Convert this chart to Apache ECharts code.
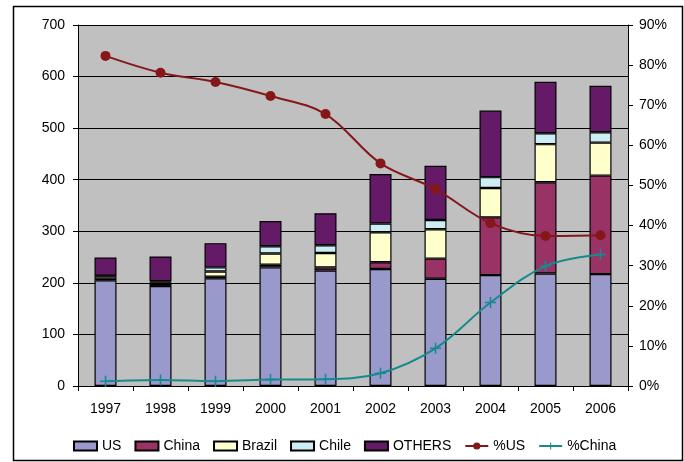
<!DOCTYPE html>
<html>
<head>
<meta charset="utf-8">
<script src="https://cdn.jsdelivr.net/npm/echarts@6/dist/echarts.min.js"></script>
<style>
  html, body { margin: 0; padding: 0; background: #fff; }
  #chart { width: 684px; height: 462px; }
</style>
</head>
<body>
<div id="chart"></div>
<script>
// Volumes by origin (stacked bars, left axis) and shares (lines, right axis)
const years = ['1997', '1998', '1999', '2000', '2001', '2002', '2003', '2004', '2005', '2006'];
const us     = [205, 194, 209, 230, 224, 227, 208, 215, 218, 217];
const china  = [3, 4, 3, 5, 6, 13, 39, 112, 177, 191];
const brazil = [5, 3, 10, 22, 28, 58, 57, 57, 74, 64];
const chile  = [1, 2, 8, 14, 15, 17, 18, 21, 21, 20];
const others = [35, 48, 47, 49, 62, 96, 105, 129, 100, 90];
const pctUS    = [82.3, 78.1, 75.8, 72.3, 67.8, 55.5, 49.1, 40.6, 37.4, 37.6];
const pctChina = [1.2, 1.5, 1.2, 1.6, 1.7, 3.2, 9.4, 20.8, 29.9, 32.8];

const leftTicks = { min: 0, max: 700, interval: 100 };
const rightTicks = { min: 0, max: 90, interval: 10 };

const FONT = 'Liberation Sans, Arial, sans-serif';
const FS = 14;
const plus = 'path://M4.3,0H5.7V4.3H10V5.7H5.7V10H4.3V5.7H0V4.3H4.3Z';

function barSeries(name, data, color) {
  return {
    name, type: 'bar', stack: 'vol', data,
    barWidth: 22,
    itemStyle: { color, borderColor: '#000', borderWidth: 1.2 },
    emphasis: { disabled: true }
  };
}

const chart = echarts.init(document.getElementById('chart'), null, { renderer: 'canvas' });
chart.setOption({
  animation: false,
  backgroundColor: '#fff',
  textStyle: { fontFamily: FONT, color: '#000' },
  graphic: [{
    type: 'rect', left: 11, top: 4, z: 100,
    shape: { width: 669, height: 454 },
    style: { fill: 'none', stroke: '#000', lineWidth: 1.5 }
  }],
  grid: {
    left: 78, top: 25, right: 56, bottom: 76,
    show: true, backgroundColor: '#c0c0c0', borderWidth: 0
  },
  legend: {
    left: 73, top: 439, padding: 0,
    itemWidth: 23, itemHeight: 9, itemGap: 13,
    textStyle: { fontSize: FS, fontFamily: FONT, color: '#000' },
    data: [
      { name: 'US', icon: 'rect' },
      { name: 'China', icon: 'rect' },
      { name: 'Brazil', icon: 'rect' },
      { name: 'Chile', icon: 'rect' },
      { name: 'OTHERS', icon: 'rect' },
      '%US', '%China'
    ]
  },
  xAxis: {
    type: 'category', data: years,
    axisLine: { lineStyle: { color: '#000', width: 1 } },
    axisTick: { show: true, length: 5, lineStyle: { color: '#000' } },
    axisLabel: { fontSize: FS, color: '#000', margin: 16, fontFamily: FONT }
  },
  yAxis: [{
    type: 'value', ...leftTicks,
    axisLine: { show: true, lineStyle: { color: '#000', width: 1 } },
    axisTick: { show: true, length: 5, lineStyle: { color: '#000' } },
    splitLine: { lineStyle: { color: '#000', width: 1 } },
    axisLabel: { fontSize: FS, color: '#000', margin: 13, fontFamily: FONT }
  }, {
    type: 'value', position: 'right', ...rightTicks,
    axisLine: { show: true, lineStyle: { color: '#000', width: 1 } },
    axisTick: { show: true, length: 5, lineStyle: { color: '#000' } },
    splitLine: { show: false },
    axisLabel: { fontSize: FS, color: '#000', margin: 11, fontFamily: FONT, formatter: '{value}%' }
  }],
  series: [
    barSeries('US', us, '#9999cc'),
    barSeries('China', china, '#993366'),
    barSeries('Brazil', brazil, '#ffffcc'),
    barSeries('Chile', chile, '#cdedf5'),
    barSeries('OTHERS', others, '#641a66'),
    {
      name: '%US', type: 'line', yAxisIndex: 1, data: pctUS, smooth: 0.35, z: 5,
      symbol: 'circle', symbolSize: 10,
      lineStyle: { color: '#861719', width: 2 },
      itemStyle: { color: '#861719' },
      emphasis: { disabled: true }
    },
    {
      name: '%China', type: 'line', yAxisIndex: 1, data: pctChina, smooth: 0.35, z: 5,
      symbol: plus, symbolSize: 11,
      lineStyle: { color: '#178a8c', width: 2 },
      itemStyle: { color: '#178a8c' },
      emphasis: { disabled: true }
    }
  ]
});
</script>
</body>
</html>
